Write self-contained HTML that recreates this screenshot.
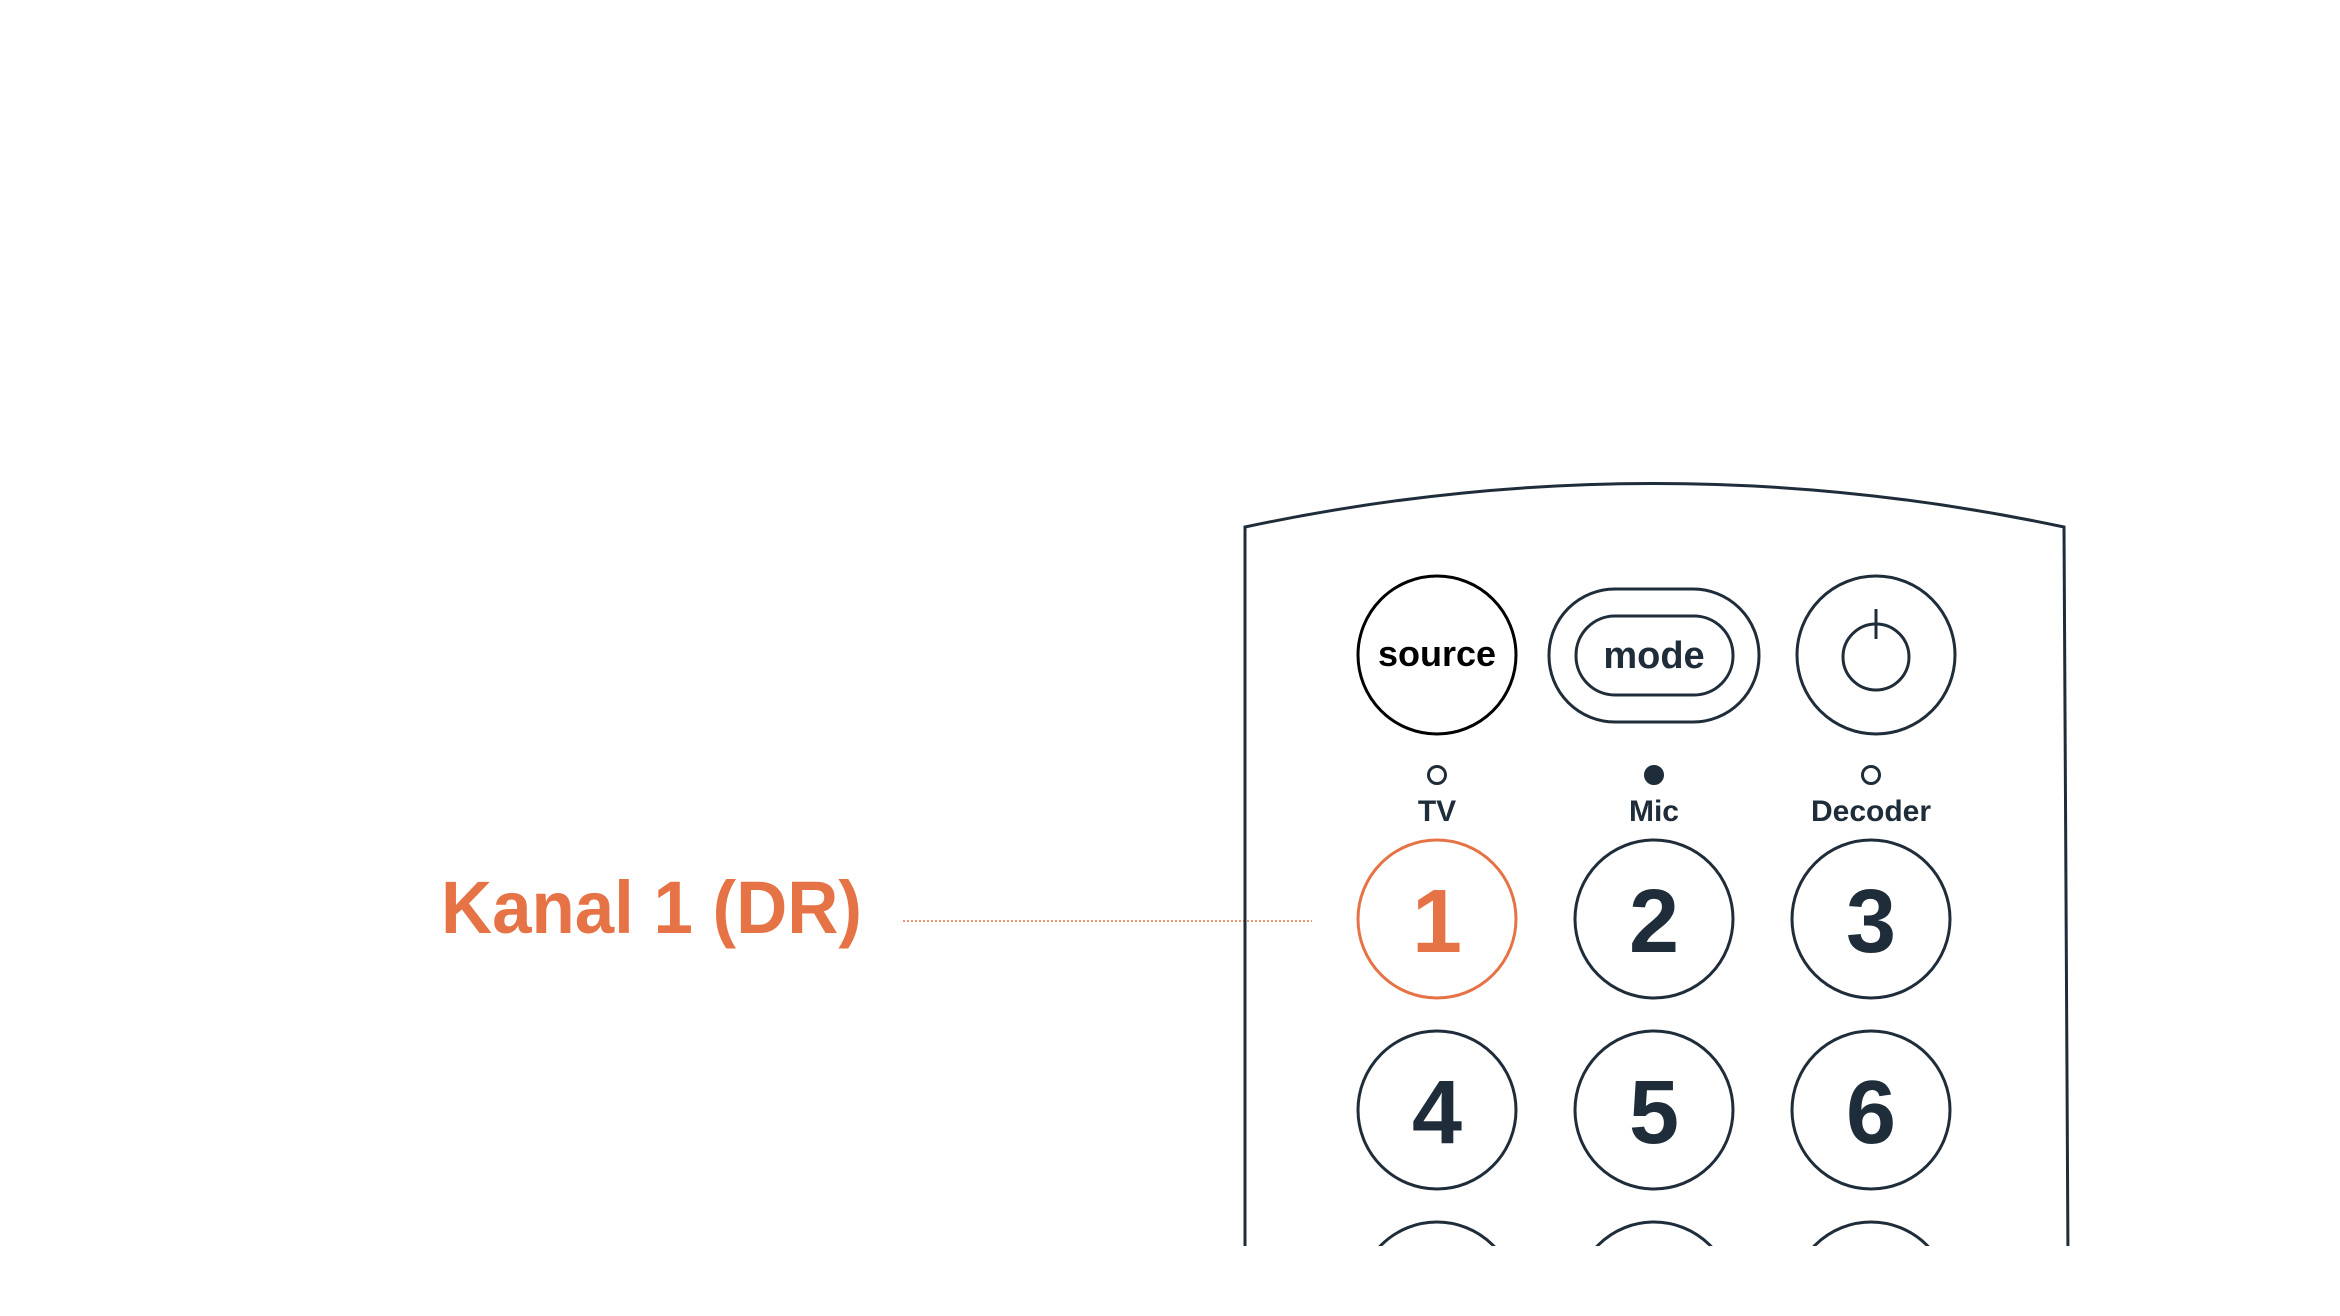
<!DOCTYPE html>
<html><head><meta charset="utf-8"><style>
html,body{margin:0;padding:0;background:#fff;}
svg{display:block;}
text{font-family:"Liberation Sans",sans-serif;font-weight:bold;}
</style></head><body>
<svg width="2340" height="1316" viewBox="0 0 2340 1316" xmlns="http://www.w3.org/2000/svg">
<defs><clipPath id="c"><rect x="0" y="0" width="2340" height="1246"/></clipPath></defs>
<text x="441" y="933" font-size="74" fill="#E67346" textLength="421" lengthAdjust="spacingAndGlyphs">Kanal 1 (DR)</text>
<line x1="903" y1="921" x2="1312" y2="921" stroke="#E67346" stroke-width="1.5" stroke-dasharray="2,2"/>
<g clip-path="url(#c)" fill="none" stroke="#1f2d3a" stroke-width="3">
<path d="M1245 1260 L1245 527 Q1654 440 2064 527 L2068 1260"/>
<circle cx="1437" cy="655" r="79" stroke="#000"/>
<rect x="1549" y="589" width="210" height="133" rx="66"/>
<rect x="1576" y="616" width="157" height="79" rx="39"/>
<circle cx="1876" cy="655" r="79"/>
<circle cx="1876" cy="657" r="33"/>
<line x1="1876" y1="609" x2="1876" y2="639"/>
<circle cx="1437" cy="775" r="8.5"/>
<circle cx="1654" cy="775" r="8.5" fill="#1f2d3a"/>
<circle cx="1871" cy="775" r="8.5"/>
<circle cx="1437" cy="919" r="79" stroke="#E67346"/>
<circle cx="1654" cy="919" r="79"/>
<circle cx="1871" cy="919" r="79"/>
<circle cx="1437" cy="1110" r="79"/>
<circle cx="1654" cy="1110" r="79"/>
<circle cx="1871" cy="1110" r="79"/>
<circle cx="1437" cy="1301" r="79"/>
<circle cx="1654" cy="1301" r="79"/>
<circle cx="1871" cy="1301" r="79"/>
</g>
<g text-anchor="middle">
<text x="1437" y="666" font-size="36" fill="#000">source</text>
<text x="1654" y="668" font-size="38" fill="#1f2d3a">mode</text>
<text x="1437" y="821" font-size="30" fill="#1f2d3a">TV</text>
<text x="1654" y="821" font-size="30" fill="#1f2d3a">Mic</text>
<text x="1871" y="821" font-size="30" fill="#1f2d3a">Decoder</text>
<text x="1437" y="952" font-size="90" fill="#E67346" font-weight="normal">1</text>
<text x="1654" y="952" font-size="90" fill="#1f2d3a">2</text>
<text x="1871" y="952" font-size="90" fill="#1f2d3a">3</text>
<text x="1437" y="1143" font-size="90" fill="#1f2d3a">4</text>
<text x="1654" y="1143" font-size="90" fill="#1f2d3a">5</text>
<text x="1871" y="1143" font-size="90" fill="#1f2d3a">6</text>
</g>
</svg>
</body></html>
